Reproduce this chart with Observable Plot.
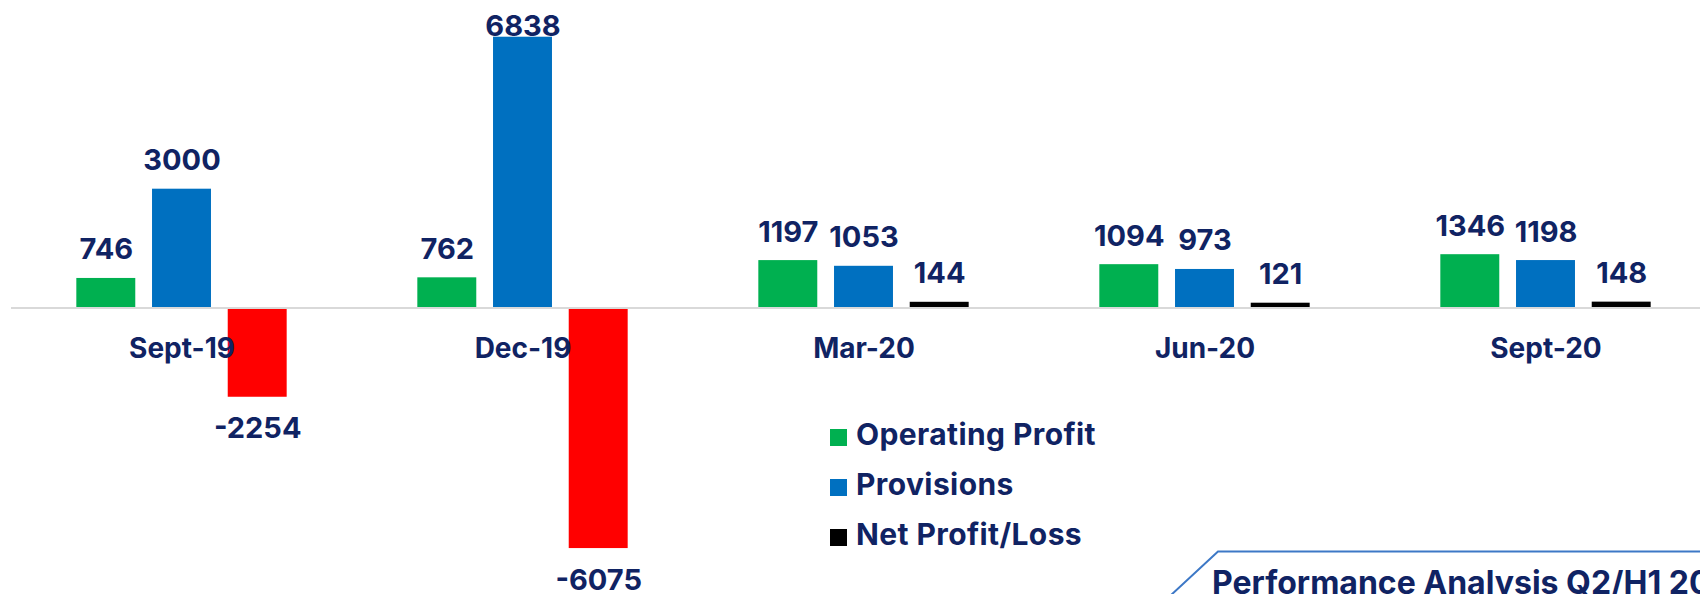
<!DOCTYPE html>
<html>
<head>
<meta charset="utf-8">
<script src="https://cdn.jsdelivr.net/npm/d3@7"></script>
<script src="https://cdn.jsdelivr.net/npm/@observablehq/plot@0.6"></script>
<style>
  html, body { margin: 0; padding: 0; background: #ffffff; }
  #wrap { position: relative; width: 1700px; height: 594px; overflow: hidden; background: #fff; font-family: Inter, "DejaVu Sans", sans-serif; }
  #chart svg { display: block; }
  #legend { position: absolute; left: 830px; top: 409px; color: #102363; font-weight: 700; font-size: 30px; letter-spacing: 0.4px; }
  #legend .row { height: 50px; line-height: 50px; white-space: nowrap; }
  #legend .sw { display: inline-block; width: 17px; height: 17px; margin-right: 9px; vertical-align: baseline; position: relative; top: 1px; }
  #caption { position: absolute; left: 1212px; top: 567px; color: #102363; font-weight: 700; font-size: 32px; line-height: 32px; white-space: nowrap; }
  #capline { position: absolute; left: 0; top: 0; }
</style>
</head>
<body>
<div id="wrap">
  <div id="chart"></div>
  <div id="legend"></div>
  <svg id="capline" width="1700" height="594"><polyline points="1170,596 1218,551.5 1700,551.5" fill="none" stroke="#3d78c6" stroke-width="2"/></svg>
  <div id="caption">Performance Analysis Q2/H1 2020</div>
</div>
<script>
// ---- data ----
const periods = ["Sept-19", "Dec-19", "Mar-20", "Jun-20", "Sept-20"];
const operatingProfit = [746, 762, 1197, 1094, 1346];
const provisions = [3000, 6838, 1053, 973, 1198];
const netProfitLoss = [-2254, -6075, 144, 121, 148];
const seriesNames = ["Operating Profit", "Provisions", "Net Profit/Loss"];
const seriesColors = ["#00b050", "#0070c0", "#000000"];
const lossColor = "#ff0000";
const navy = "#102363";

const seriesValues = [operatingProfit, provisions, netProfitLoss];
const rows = [];
seriesNames.forEach((s, si) => {
  periods.forEach((p, pi) => {
    rows.push({period: p, series: s, si, value: seriesValues[si][pi]});
  });
});
const fillOf = d => (d.si === 2 && d.value < 0) ? lossColor : seriesColors[d.si];

const step = 341.05;      // band step
const barW = 59;
const inset = (step - barW) / 2;
const offsets = [-75.7, 0, 75.7];
const labelFont = {fontFamily: "Inter, 'DejaVu Sans', sans-serif", fontWeight: 700, fill: navy};
const clampTop = 6500;   // labels above this value sit on the bar top (no room above)

const marks = [];
seriesNames.forEach((s, si) => {
  const data = rows.filter(d => d.si === si);
  marks.push(Plot.barY(data, {x: "period", y: "value", fill: fillOf, insetLeft: inset, insetRight: inset, dx: offsets[si]}));
});
marks.push(Plot.ruleY([0], {stroke: "#d9d9d9", strokeWidth: 2}));
seriesNames.forEach((s, si) => {
  const pos = rows.filter(d => d.si === si && d.value >= 0 && d.value < clampTop);
  const top = rows.filter(d => d.si === si && d.value >= clampTop);
  const neg = rows.filter(d => d.si === si && d.value < 0);
  marks.push(Plot.text(pos, {x: "period", y: "value", text: d => String(d.value), dx: offsets[si], dy: -19, lineAnchor: "bottom", fontSize: 29, ...labelFont}));
  marks.push(Plot.text(top, {x: "period", y: "value", text: d => String(d.value), dx: offsets[si], dy: -1.5, lineAnchor: "bottom", fontSize: 29, ...labelFont}));
  marks.push(Plot.text(neg, {x: "period", y: "value", text: d => String(d.value), dx: offsets[si], dy: 41, lineAnchor: "bottom", fontSize: 29, ...labelFont}));
});
marks.push(Plot.text(periods, {x: d => d, y: () => 0, text: d => d, dy: 50.5, lineAnchor: "bottom", fontSize: 28, letterSpacing: "1px", ...labelFont}));

const chart = Plot.plot({
  width: 1700,
  height: 594,
  marginTop: 0, marginBottom: 0, marginLeft: 11, marginRight: 0,
  style: {background: "transparent", overflow: "hidden"},
  x: {axis: null, domain: periods, range: [11.3, 1716.5], padding: 0},
  y: {axis: null, domain: [-7235, 7765]},
  color: {type: "identity"},
  marks
});
document.getElementById("chart").appendChild(chart);

const legend = document.getElementById("legend");
seriesNames.forEach((s, i) => {
  const row = document.createElement("div");
  row.className = "row";
  const sw = document.createElement("span");
  sw.className = "sw";
  sw.style.background = seriesColors[i];
  row.appendChild(sw);
  row.appendChild(document.createTextNode(s));
  legend.appendChild(row);
});
</script>
</body>
</html>
